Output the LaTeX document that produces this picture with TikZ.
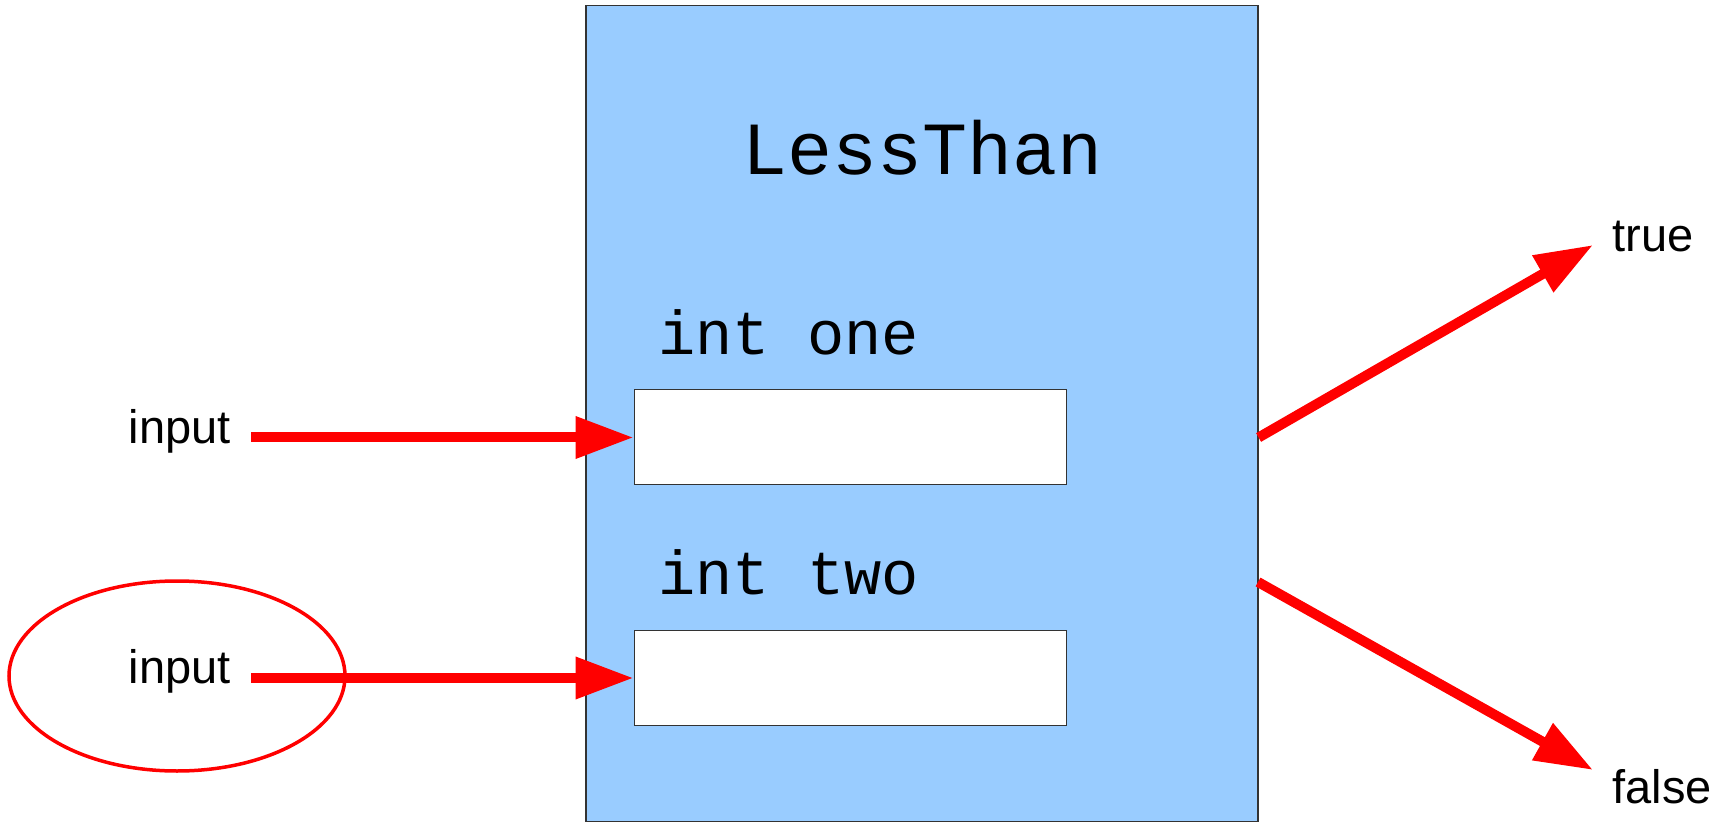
\documentclass[tikz,border=0pt]{standalone}
\usepackage{fontspec}
\setmainfont{Liberation Sans}
\newfontfamily\codefont{Liberation Mono}
\usetikzlibrary{arrows.meta,positioning,shapes.geometric}
\definecolor{blockblue}{HTML}{99CCFF}
\definecolor{flowred}{HTML}{FF0000}
\tikzset{x=0.5pt,y=-0.5pt,
  block/.style={draw=black!80,fill=blockblue,line width=0.6pt,minimum width=336pt,minimum height=408pt,inner sep=0pt},
  slot/.style={draw=black!80,fill=white,line width=0.5pt,minimum width=216pt,minimum height=47.5pt,inner sep=0pt},
  code/.style={font=\codefont\fontsize{31}{35}\selectfont,inner sep=0pt},
  word/.style={font=\fontsize{23.5}{28}\selectfont,inner sep=0pt},
  flow/.style={draw=flowred,line width=5pt,-{Triangle[length=29pt,width=20pt]}}}

\begin{document}
\begin{tikzpicture}
  \useasboundingbox (0,0) rectangle (1732,822);

  \node[block] (lessthan) at (922,413.5) {};
  \node[font=\codefont\fontsize{37.5}{42}\selectfont,inner sep=0pt] (title) at (923,148) {LessThan};

  \node[code,anchor=south west] (oneName) at (658,356) {int one};
  \node[slot] (oneBox) at (850,437.5) {};
  \node[code,anchor=south west] (twoName) at (658,596) {int two};
  \node[slot] (twoBox) at (850,678) {};

  % inputs
  \node[word,anchor=east] (inOne) at (231,431) {input};
  \node[word,anchor=east] (inTwo) at (231,671) {input};
  \node[draw=flowred,line width=1.75pt,ellipse,minimum width=168pt,minimum height=95pt] (ring) at (177,676) {};

  \draw[flow] ([xshift=10pt]inOne.east |- oneBox) -- (oneBox.west);
  \draw[flow] ([xshift=10pt]inTwo.east |- twoBox) -- (twoBox.west);

  % outputs
  \node[word,anchor=west] (yes) at (1612,237) {true};
  \node[word,anchor=west] (no) at (1612,787) {false};
  \coordinate (yesTip) at (1593,245);
  \coordinate (noTip) at (1593,770);
  \coordinate (noStart) at (1258,582);

  \draw[flow] (lessthan.east |- oneBox) -- (yesTip);
  \draw[flow] (noStart) -- (noTip);
\end{tikzpicture}
\end{document}
